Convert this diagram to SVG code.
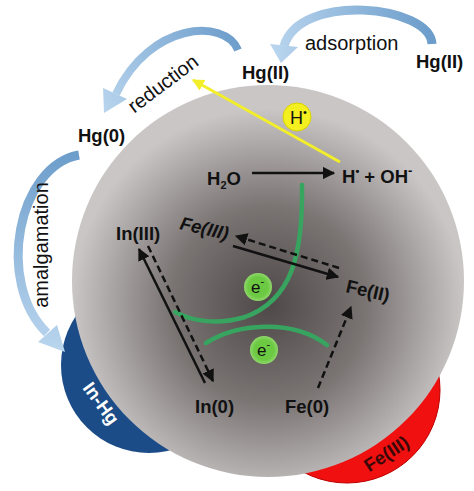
<svg xmlns="http://www.w3.org/2000/svg" width="474" height="491" viewBox="0 0 474 491">
<defs>
<radialGradient id="sph" cx="0.5" cy="0.56" r="0.5">
<stop offset="0" stop-color="#4f4848"/>
<stop offset="0.5" stop-color="#7a7473"/>
<stop offset="1" stop-color="#c9c6c5"/>
</radialGradient>
<linearGradient id="gAds" gradientUnits="userSpaceOnUse" x1="435" y1="40" x2="275" y2="60">
<stop offset="0" stop-color="#6b9cca"/><stop offset="1" stop-color="#b9d5ee"/>
</linearGradient>
<linearGradient id="gRed" gradientUnits="userSpaceOnUse" x1="245" y1="45" x2="100" y2="110">
<stop offset="0" stop-color="#6b9cca"/><stop offset="1" stop-color="#b9d5ee"/>
</linearGradient>
<linearGradient id="gAm" gradientUnits="userSpaceOnUse" x1="80" y1="150" x2="60" y2="350">
<stop offset="0" stop-color="#6b9cca"/><stop offset="1" stop-color="#b9d5ee"/>
</linearGradient>
<radialGradient id="eg" cx="0.5" cy="0.5" r="0.5">
<stop offset="0.7" stop-color="#6cc942"/><stop offset="1" stop-color="#8fd86a"/>
</radialGradient>
<marker id="ah" viewBox="0 0 10 10" refX="9" refY="5" markerWidth="5" markerHeight="5" orient="auto" markerUnits="strokeWidth">
<path d="M0,0 L10,5 L0,10 z" fill="#111"/>
</marker>
<marker id="ahy" viewBox="0 0 10 10" refX="9" refY="5" markerWidth="4" markerHeight="4" orient="auto" markerUnits="strokeWidth">
<path d="M0,0 L10,5 L0,10 z" fill="#f2ee2a"/>
</marker>
</defs>
<style>
.t{font-family:"Liberation Sans",Arial,sans-serif;fill:#111}
.b{font-weight:bold;font-size:18.5px}
.r{font-size:20px}
.sol{stroke:#111;stroke-width:2.5;fill:none;marker-end:url(#ah)}
.dash{stroke:#111;stroke-width:2.5;fill:none;stroke-dasharray:7 4;marker-end:url(#ah)}
.grn{stroke:#37a55f;stroke-width:4.5;fill:none;stroke-linecap:round}
</style>
<rect width="474" height="491" fill="#fff"/>

<g id="cap-inhg">
<circle cx="149" cy="365" r="88" fill="#1b4c88"/>
</g>
<g id="cap-fe3">
<circle cx="347" cy="390" r="93" fill="#f01010" stroke="#b00" stroke-width="1"/>
</g>
<g id="particle">
<circle cx="268" cy="281" r="196" fill="url(#sph)"/>
</g>
<g id="cap-labels">
<text class="t b" style="fill:#fff" text-anchor="middle" transform="translate(96,407) rotate(54)">In-Hg</text>
<text class="t b" style="fill:#3a0808" text-anchor="middle" transform="translate(390,459) rotate(-33)">Fe(III)</text>
</g>

<g id="connectors">
<path d="M432,44 C430,5 300,-8 284,46" fill="none" stroke="url(#gAds)" stroke-width="9"/>
<polygon points="270,44 298,47 281,63" fill="url(#gAds)"/>
<path d="M238,50 C225,18 150,22 116,94" fill="none" stroke="url(#gRed)" stroke-width="8"/>
<polygon points="103,88 127,99 104,113" fill="url(#gRed)"/>
<path d="M79,155 C18,166 -5,282 47,333" fill="none" stroke="url(#gAm)" stroke-width="9"/>
<polygon points="38,342 57,325 65,352" fill="url(#gAm)"/>

<line x1="340" y1="162" x2="193" y2="80" stroke="#f2ee2a" stroke-width="3" marker-end="url(#ahy)"/>
<line x1="252" y1="173" x2="334" y2="173" class="sol"/>
<path class="grn" d="M302,185 C303,255 292,300 245,317 C215,326 190,320 175,312"/>
<path class="grn" d="M206,343 C236,324 292,318 327,345"/>
<line x1="233" y1="246" x2="338" y2="277" class="sol"/>
<line x1="339" y1="268" x2="236" y2="236" class="dash"/>
<line x1="205" y1="383" x2="139" y2="249" class="sol"/>
<line x1="148" y1="246" x2="213" y2="381" class="dash"/>
<line x1="318" y1="388" x2="351" y2="307" class="dash"/>
</g>

<g id="n-hg2-out"><text class="t b" x="416" y="68">Hg(II)</text></g>
<g id="n-adsorption"><text class="t r" x="305" y="50">adsorption</text></g>
<g id="n-hg2-surf"><text class="t b" x="242" y="79">Hg(II)</text></g>
<g id="n-reduction"><text class="t r" text-anchor="middle" transform="translate(167,89) rotate(-37)">reduction</text></g>
<g id="n-hg0"><text class="t b" x="78" y="142">Hg(0)</text></g>
<g id="n-amalgamation"><text class="t r" text-anchor="middle" transform="translate(48,245) rotate(-90)">amalgamation</text></g>
<g id="n-hrad">
<circle cx="297" cy="117" r="14" fill="#f4ef1e" stroke="#d8d200" stroke-width="1"/>
<text class="t" x="290" y="124" font-size="18">H<tspan font-size="11" dy="-8">•</tspan></text>
</g>
<g id="n-h2o"><text class="t b" x="207" y="185">H<tspan font-size="11" dy="4">2</tspan><tspan dy="-4">O</tspan></text></g>
<g id="n-hoh"><text class="t b" x="342" y="183">H<tspan font-size="11" dy="-8">•</tspan><tspan dy="8"> + OH</tspan><tspan font-size="13" dy="-8">-</tspan></text></g>
<g id="n-in3"><text class="t b" x="116" y="240">In(III)</text></g>
<g id="n-fe3"><text class="t b" font-style="italic" transform="translate(179,229) rotate(13)">Fe(III)</text></g>
<g id="n-fe2"><text class="t b" transform="translate(345,292) rotate(13)">Fe(II)</text></g>
<g id="n-e1">
<circle cx="258" cy="287" r="14" fill="url(#eg)"/>
<text class="t" x="251" y="293" font-size="17">e<tspan font-size="11" dy="-8">-</tspan></text>
</g>
<g id="n-e2">
<circle cx="264" cy="350" r="14" fill="url(#eg)"/>
<text class="t" x="257" y="356" font-size="17">e<tspan font-size="11" dy="-8">-</tspan></text>
</g>
<g id="n-in0"><text class="t b" x="195" y="413">In(0)</text></g>
<g id="n-fe0"><text class="t b" x="285" y="413">Fe(0)</text></g>
</svg>
